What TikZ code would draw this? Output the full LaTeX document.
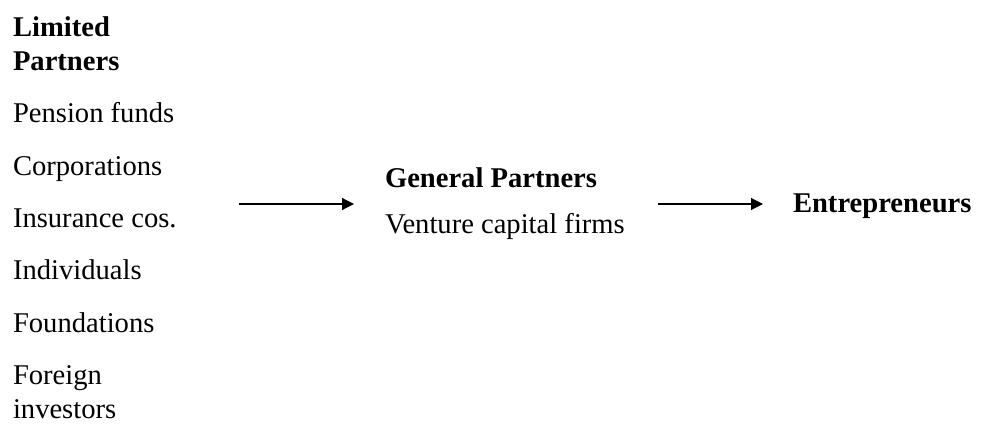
\documentclass[tikz,border=0pt]{standalone}
\usepackage{fontspec}
\setmainfont{Liberation Serif}
\usetikzlibrary{arrows.meta}
\tikzset{
txt/.style = {anchor=base west, inner sep=0pt, outer sep=0pt, align=left,
              font=\fontsize{14.3pt}{16.8pt}\selectfont},
head/.style = {txt, font=\fontsize{14.3pt}{16.8pt}\selectfont\bfseries}
}
\tikzset{
flow/.style = {-{Triangle[length=#1, width=#1]}, line width=0.6pt},
flow/.default = 6pt % size of the arrow head
}

\begin{document}
\begin{tikzpicture}[x=0.5pt, y=-0.5pt]
    \useasboundingbox (0,0) rectangle (982,428);
    % investors (two-line nodes sit on their last line)
    \node[head] (limited) at (13,70) {Limited\\Partners};
    \node[txt] (pension) at (13,122) {Pension funds};
    \node[txt] (corp) at (13,175) {Corporations};
    \node[txt] (insur) at (13,227) {Insurance cos.};
    \node[txt] (indiv) at (13,279) {Individuals};
    \node[txt] (found) at (13,332) {Foundations};
    \node[txt] (foreign) at (13,418) {Foreign\\investors};
    % funds
    \node[head] (general) at (385,187) {General Partners};
    \node[txt] (venture) at (385,233) {Venture capital firms};
    \node[head] (entre) at (793,213) {Entrepreneurs};

    \coordinate (arrowAStart) at (239,204);
    \coordinate (arrowAEnd) at (354,204);
    \coordinate (arrowBStart) at (658,204);
    \coordinate (arrowBEnd) at (763,204);

    \draw[flow]  (arrowAStart) -- (arrowAEnd);
    \draw[flow]  (arrowBStart) -- (arrowBEnd);
\end{tikzpicture}
\end{document}
